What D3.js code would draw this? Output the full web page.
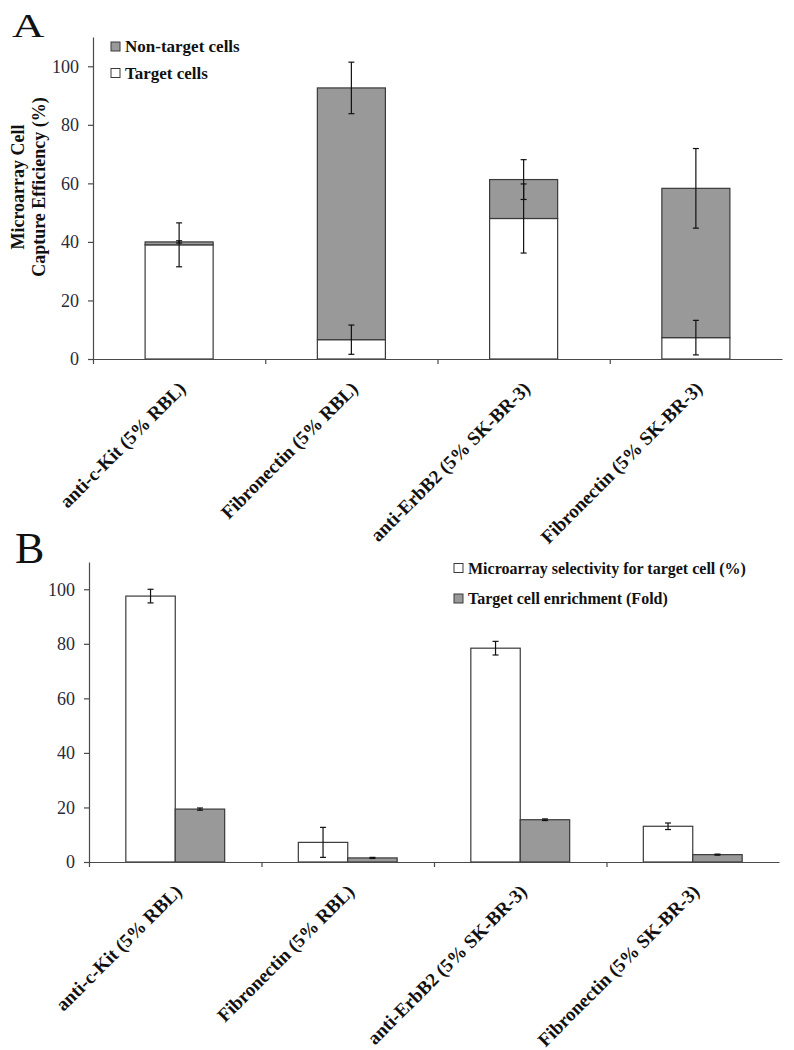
<!DOCTYPE html>
<html>
<head>
<meta charset="utf-8">
<script src="https://cdn.jsdelivr.net/npm/d3@7"></script>
<style>
  html, body { margin: 0; padding: 0; background: #fff; }
  svg { display: block; }
</style>
</head>
<body>
<svg id="chart" width="794" height="1050"></svg>
<script>
// ---------- data ----------
const categories = ["anti-c-Kit (5% RBL)", "Fibronectin (5% RBL)", "anti-ErbB2 (5% SK-BR-3)", "Fibronectin (5% SK-BR-3)"];
// Panel A: stacked capture efficiency (%)
const targetCells = [39.0, 6.6, 48.0, 7.3];
const nonTargetCells = [1.0, 86.0, 13.3, 51.0];
const targetErr = [7.5, 5.0, 11.8, 5.9];
const totalErr = [0.4, 8.8, 6.8, 13.6];
// Panel B
const selectivity = [97.5, 7.2, 78.4, 13.1];
const selectivityErr = [2.5, 5.5, 2.5, 1.2];
const enrichment = [19.4, 1.5, 15.5, 2.7];
const enrichmentErr = [0.4, 0.2, 0.3, 0.2];
const yTicks = [0, 20, 40, 60, 80, 100];
const legendA = ["Non-target cells", "Target cells"];
const legendB = ["Microarray selectivity for target cell (%)", "Target cell enrichment (Fold)"];

// ---------- styles ----------
const GRAY = "#999999";
const EDGE = "#3a3a3a";
const AXIS = "#4a4a4a";
const FONT = '"Liberation Serif", "Times New Roman", serif';

const svg = d3.select("#chart");

function drawAxes(g, x, y, xr, y0px) {
  const ya = g.append("g").attr("transform", `translate(${xr[0]},0)`)
    .call(d3.axisLeft(y).tickValues(yTicks).tickSize(5).tickSizeOuter(0).tickPadding(9));
  ya.attr("font-family", FONT);
  ya.select(".domain").attr("stroke", AXIS).attr("stroke-width", 1.2);
  ya.selectAll(".tick line").attr("stroke", AXIS).attr("stroke-width", 1.2);
  ya.selectAll(".tick text").attr("font-family", FONT).attr("font-size", 18).attr("fill", "#2a2a3a");
  const xl = d3.scaleLinear().domain([0, categories.length]).range(xr);
  const xa = g.append("g").attr("transform", `translate(0,${y0px})`)
    .call(d3.axisBottom(xl).tickValues([0, 1, 2, 3]).tickFormat("").tickSize(5).tickSizeOuter(0));
  xa.select(".domain").attr("stroke", AXIS).attr("stroke-width", 1.2);
  xa.selectAll(".tick line").attr("stroke", AXIS).attr("stroke-width", 1.2);
  g.append("g").selectAll("text").data(categories).join("text")
    .attr("transform", d => `translate(${x(d) + x.bandwidth() / 2 + 3},${y0px + 26}) rotate(-45)`)
    .attr("dy", "0.35em")
    .attr("text-anchor", "end")
    .attr("font-family", FONT).attr("font-weight", "bold").attr("font-size", 19)
    .attr("fill", "#111")
    .text(d => d);
}

function errBar(g, cx, yv, e, y, cap) {
  g.append("line").attr("x1", cx).attr("x2", cx).attr("y1", y(yv - e)).attr("y2", y(yv + e))
    .attr("stroke", "#111").attr("stroke-width", 1.2);
  [yv - e, yv + e].forEach(v => {
    g.append("line").attr("x1", cx - cap).attr("x2", cx + cap).attr("y1", y(v)).attr("y2", y(v))
      .attr("stroke", "#111").attr("stroke-width", 1.2);
  });
}

// ---------- Panel A ----------
{
  const xr = [93, 782];
  const x = d3.scaleBand().domain(categories).range(xr);
  const y = d3.scaleLinear().domain([0, 110]).range([359, 37]);
  const g = svg.append("g");
  const rows = categories.map((c, i) => ({ cat: c, target: targetCells[i], nontarget: nonTargetCells[i] }));
  const stack = d3.stack().keys(["target", "nontarget"])(rows);
  const bw = x.bandwidth() * 0.395;
  const fills = { target: "#ffffff", nontarget: GRAY };
  stack.forEach(layer => {
    g.append("g").selectAll("rect").data(layer).join("rect")
      .attr("x", d => x(d.data.cat) + (x.bandwidth() - bw) / 2)
      .attr("width", bw)
      .attr("y", d => y(d[1]))
      .attr("height", d => y(d[0]) - y(d[1]))
      .attr("fill", fills[layer.key])
      .attr("stroke", EDGE).attr("stroke-width", 1.2);
  });
  drawAxes(g, x, y, xr, y(0));
  const eg = g.append("g");
  categories.forEach((c, i) => {
    const cx = x(c) + x.bandwidth() / 2;
    errBar(eg, cx, targetCells[i], targetErr[i], y, 3);
    errBar(eg, cx, targetCells[i] + nonTargetCells[i], totalErr[i], y, 3);
  });
  const t = g.append("text").attr("transform", "translate(24,187) rotate(-90)")
    .attr("text-anchor", "middle").attr("font-family", FONT).attr("font-weight", "bold")
    .attr("font-size", 18).attr("fill", "#111");
  t.append("tspan").attr("x", 0).attr("dy", 0).text("Microarray Cell");
  t.append("tspan").attr("x", 0).attr("dy", 21).text("Capture Efficiency (%)");
  const lg = g.append("g");
  [GRAY, "#ffffff"].forEach((f, i) => {
    const cy = 46.5 + i * 26.5;
    lg.append("rect").attr("x", 111).attr("y", cy - 4.5).attr("width", 9).attr("height", 9)
      .attr("fill", f).attr("stroke", EDGE).attr("stroke-width", 1);
    lg.append("text").attr("x", 125).attr("y", cy).attr("dy", "0.35em")
      .attr("font-family", FONT).attr("font-weight", "bold").attr("font-size", 17).attr("fill", "#111")
      .text(legendA[i]);
  });
  g.append("text").attr("transform", "translate(12,37) scale(1,0.76)")
    .attr("font-family", FONT).attr("font-size", 45).attr("fill", "#111").text("A");
}

// ---------- Panel B ----------
{
  const xr = [89, 779];
  const x = d3.scaleBand().domain(categories).range(xr);
  const y = d3.scaleLinear().domain([0, 110]).range([862, 562]);
  const g = svg.append("g");
  const groupW = x.bandwidth() * 0.573;
  const xi = d3.scaleBand().domain(["sel", "enr"]).range([0, groupW]);
  const series = [
    { key: "sel", vals: selectivity, errs: selectivityErr, fill: "#ffffff" },
    { key: "enr", vals: enrichment, errs: enrichmentErr, fill: GRAY }
  ];
  series.forEach(s => {
    g.append("g").selectAll("rect").data(categories).join("rect")
      .attr("x", d => x(d) + (x.bandwidth() - groupW) / 2 + xi(s.key))
      .attr("width", xi.bandwidth())
      .attr("y", (d, i) => y(s.vals[i]))
      .attr("height", (d, i) => y(0) - y(s.vals[i]))
      .attr("fill", s.fill)
      .attr("stroke", EDGE).attr("stroke-width", 1.2);
  });
  drawAxes(g, x, y, xr, y(0));
  const eg = g.append("g");
  series.forEach(s => {
    categories.forEach((c, i) => {
      const cx = x(c) + (x.bandwidth() - groupW) / 2 + xi(s.key) + xi.bandwidth() / 2;
      errBar(eg, cx, s.vals[i], s.errs[i], y, 3);
    });
  });
  const lg = g.append("g");
  ["#ffffff", GRAY].forEach((f, i) => {
    const cy = 568 + i * 30.5;
    lg.append("rect").attr("x", 454).attr("y", cy - 4.5).attr("width", 9).attr("height", 9)
      .attr("fill", f).attr("stroke", EDGE).attr("stroke-width", 1);
    lg.append("text").attr("x", 468).attr("y", cy).attr("dy", "0.35em")
      .attr("font-family", FONT).attr("font-weight", "bold").attr("font-size", 16).attr("fill", "#111")
      .text(legendB[i]);
  });
  g.append("text").attr("transform", "translate(15,563)")
    .attr("font-family", FONT).attr("font-size", 44).attr("fill", "#111").text("B");
}
</script>
</body>
</html>
